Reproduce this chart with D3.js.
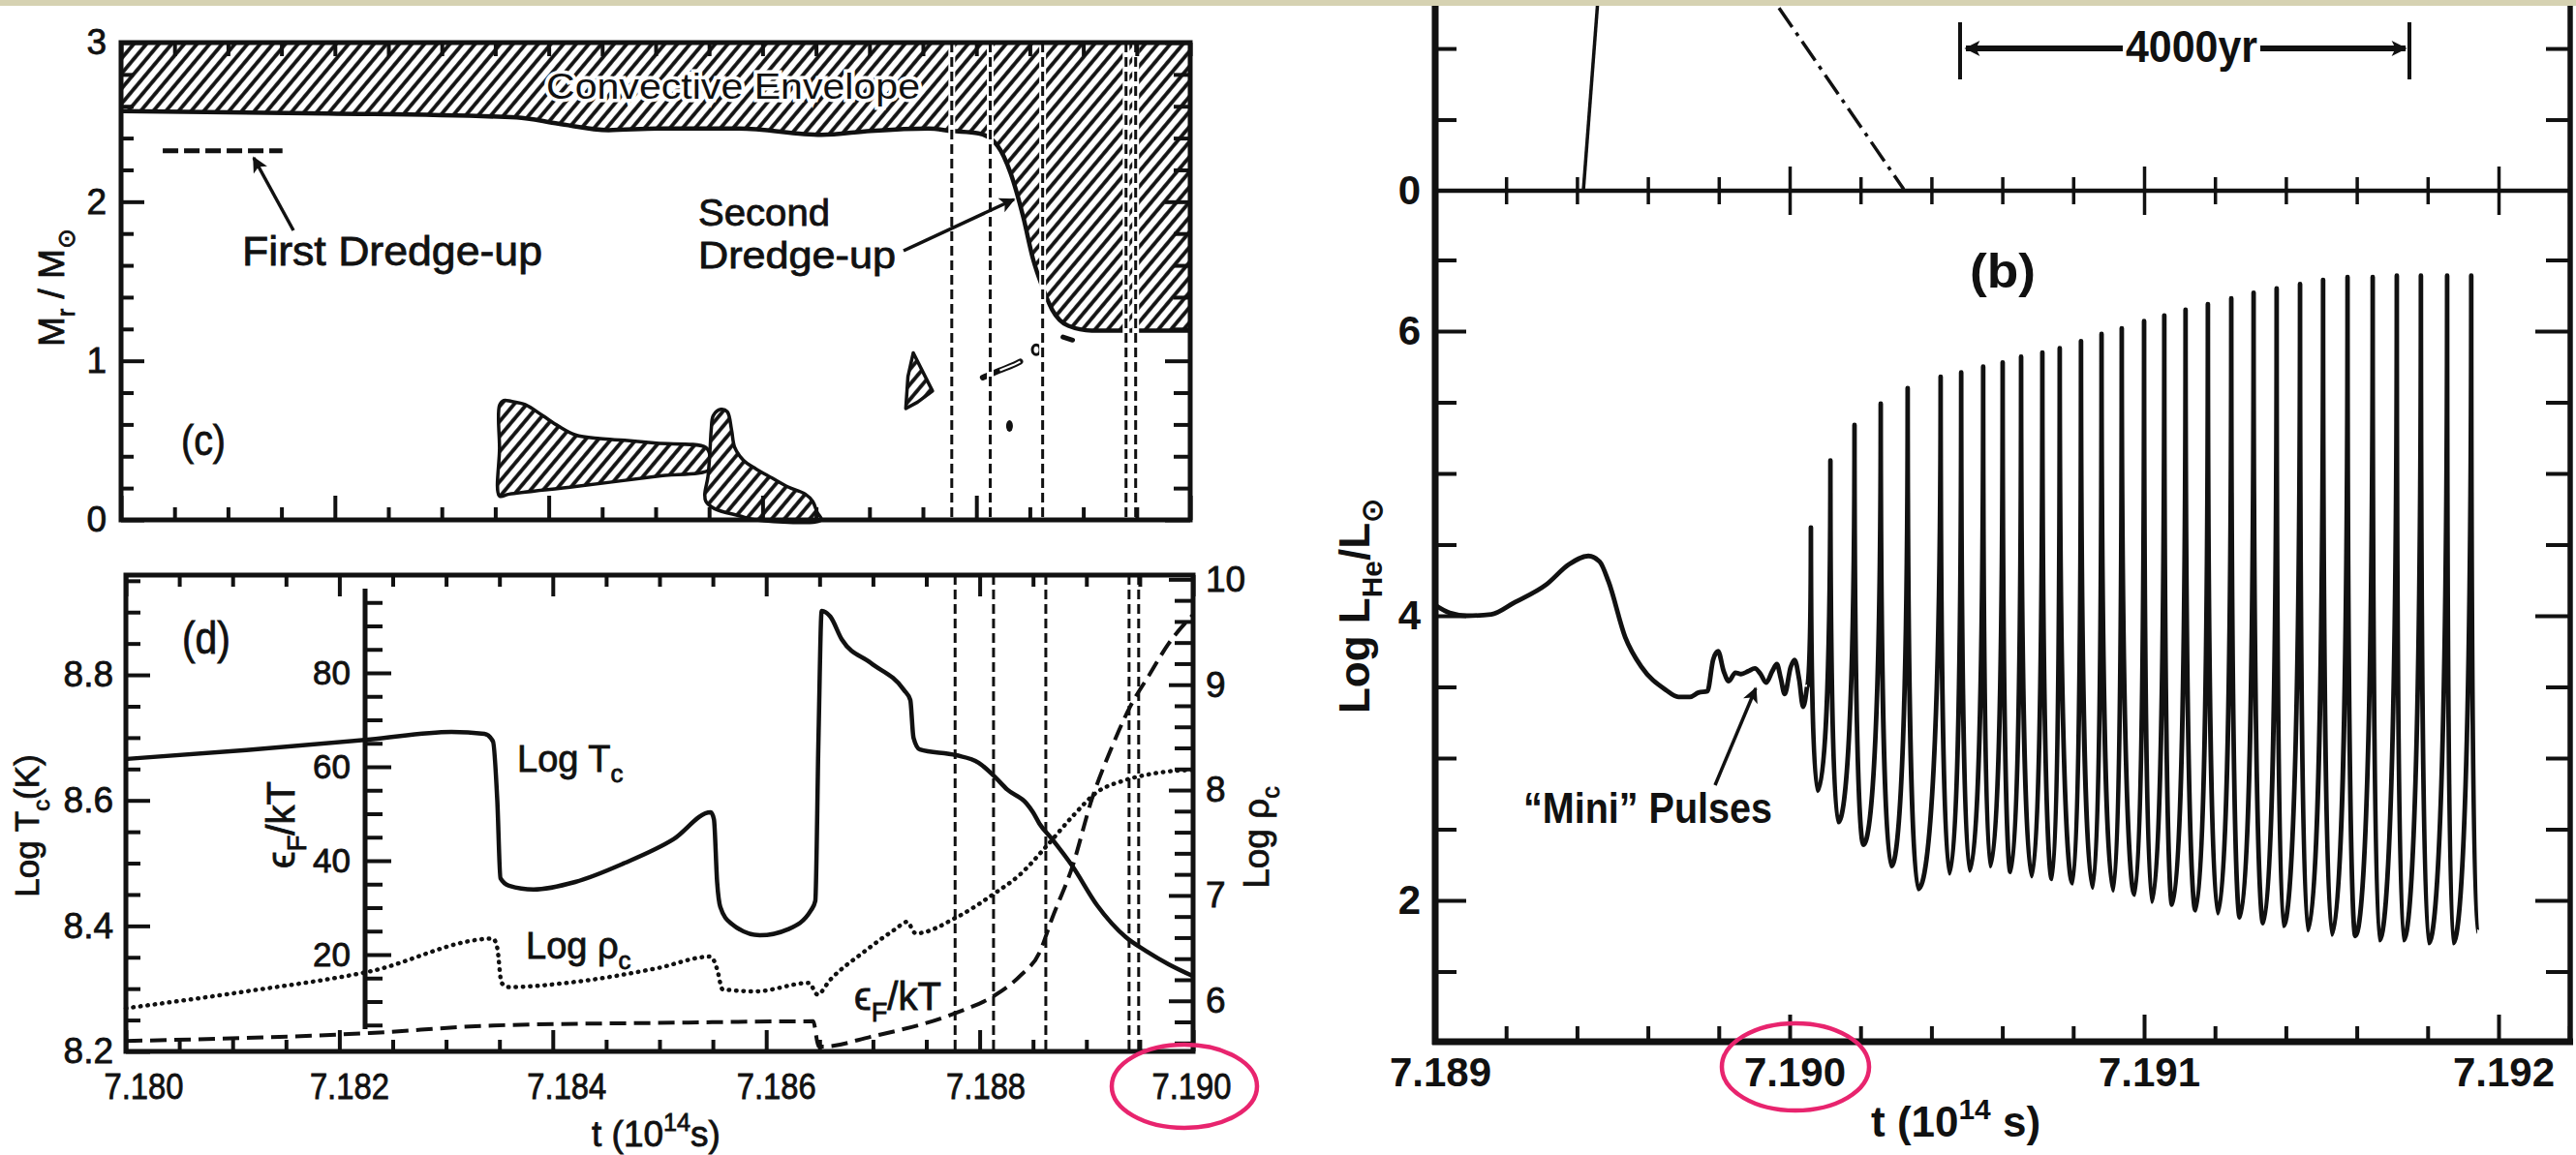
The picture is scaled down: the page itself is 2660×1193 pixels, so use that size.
<!DOCTYPE html>
<html><head><meta charset="utf-8">
<script src="https://cdn.jsdelivr.net/npm/d3@7"></script>
<style>html,body{margin:0;padding:0;background:#fff;}svg{display:block;}</style>
</head><body>
<svg id="fig" width="2660" height="1193" xmlns="http://www.w3.org/2000/svg"></svg>
<script>
// ================= DATA =================
// ---- Panel (c): Mr/Msun vs t ----
const envT = [7.1800,7.18194,7.18370,7.18409,7.18456,7.18502,7.18578,7.18655,7.18701,7.18755,7.18777,7.18802,7.18820,7.18832,7.18844,7.18853,7.18862,7.18871,7.18886,7.18908,7.1900];
const envM = [2.57,2.555,2.53,2.49,2.45,2.46,2.46,2.42,2.445,2.46,2.445,2.43,2.35,2.18,1.90,1.64,1.46,1.32,1.22,1.19,1.19];
const blob1T = [7.18354,7.18354,7.18354,7.18358,7.18365,7.18378,7.18394,7.18409,7.18425,7.18448,7.18471,7.18501,7.18547,7.18551,7.18551,7.18501,7.18425,7.18363];
const blob1M = [0.15,0.45,0.72,0.75,0.745,0.725,0.657,0.59,0.534,0.511,0.50,0.482,0.455,0.40,0.32,0.274,0.21,0.162];
const blob2T = [7.18561,7.18567,7.18571,7.18574,7.18582,7.18594,7.18609,7.18624,7.18640,7.18647,7.18651,7.18655,7.18594,7.18578,7.18555,7.18547,7.18546,7.18549,7.18551,7.18552,7.18554];
const blob2M = [0.695,0.68,0.567,0.455,0.376,0.320,0.263,0.207,0.162,0.116,0.049,0.0,0.0,0.026,0.071,0.116,0.162,0.274,0.455,0.567,0.657];
const triT = [7.18741,7.18759,7.18745,7.18734,7.18736];
const triM = [1.05,0.81,0.74,0.70,0.90];
const chainT = [7.18806,7.18822,7.18835,7.18841];
const chainM = [0.895,0.94,0.975,0.995];
const ringT = [7.18856], ringM = [1.07];
const dashBitT = [7.18881,7.18890], dashBitM = [1.15,1.13];
const dotT = [7.18831], dotM = [0.59];
const dredge1T = [7.18039,7.18151], dredge1M = [2.32,2.32];
const modelT = [7.18777,7.18813,7.18862,7.18940,7.18949];   // vertical dashed lines (c),(d)

// ---- Panel (d) ----
const tcT = [7.18000,7.18113,7.18229,7.18305,7.18336,7.18344,7.18348,7.18351,7.18359,7.18382,7.18421,7.18467,7.18513,7.18548,7.18551,7.18554,7.18557,7.18567,7.18594,7.18621,7.18642,7.18646,7.18649,7.18652,7.18660,7.18671,7.18698,7.18729,7.18735,7.18738,7.18744,7.18778,7.18799,7.18814,7.18826,7.18844,7.18850,7.18856,7.18868,7.18887,7.18910,7.18937,7.18956,7.18977,7.19000];
const tcV = [8.666,8.680,8.697,8.709,8.706,8.694,8.60,8.476,8.464,8.458,8.470,8.500,8.538,8.581,8.57,8.47,8.43,8.404,8.385,8.395,8.425,8.44,8.70,8.902,8.893,8.856,8.819,8.776,8.760,8.70,8.681,8.672,8.660,8.638,8.617,8.595,8.581,8.563,8.538,8.495,8.433,8.382,8.360,8.339,8.320];
const rhoT = [7.18000,7.18113,7.18229,7.18344,7.18348,7.18352,7.18359,7.18421,7.18498,7.18548,7.18554,7.18559,7.18590,7.18640,7.18648,7.18660,7.18691,7.18721,7.18732,7.18740,7.18778,7.18814,7.18838,7.18862,7.18887,7.18910,7.18935,7.18959,7.18980,7.19000];
const rhoV = [5.93,6.09,6.28,6.59,6.50,6.17,6.13,6.18,6.31,6.42,6.30,6.11,6.09,6.17,6.06,6.20,6.46,6.68,6.75,6.64,6.79,7.02,7.20,7.46,7.75,7.98,8.09,8.15,8.18,8.19];
const efT = [7.18000,7.18229,7.18344,7.18517,7.18644,7.18649,7.18653,7.18698,7.18778,7.18814,7.18838,7.18856,7.18868,7.18887,7.18905,7.18923,7.18941,7.18959,7.18977,7.19000];
const efV = [1.6,3.3,4.9,5.5,5.8,0.5,0.4,2.5,7.6,11.3,15.5,20.4,27.8,38.8,53,63.7,72.8,79.6,86.2,92.4];

// ---- Panel (b): Log L_He ----
const preT = [7.189003,7.189041,7.189090,7.189158,7.189221,7.189314,7.189377,7.189432,7.189464,7.189489,7.189536,7.189582,7.189650,7.189686,7.189719,7.189743,7.189768,7.189784,7.189798,7.189814,7.189828,7.189847,7.189863,7.189883,7.189902,7.189918,7.189934,7.189951,7.189964,7.189975,7.189986,7.190003,7.190014,7.190027,7.190038,7.190049];
const preL = [4.07,4.02,4.00,4.01,4.09,4.22,4.36,4.42,4.38,4.24,3.85,3.64,3.48,3.43,3.43,3.46,3.47,3.69,3.75,3.61,3.54,3.60,3.59,3.61,3.63,3.59,3.53,3.61,3.66,3.56,3.45,3.64,3.69,3.55,3.36,3.50];
const peakT = [7.190060,7.190115,7.190183,7.190257,7.190333,7.190426,7.190484,7.190546,7.190601,7.190653,7.190713,7.190762,7.190822,7.190880,7.190937,7.191000,7.191057,7.191117,7.191180,7.191246,7.191309,7.191374,7.191440,7.191505,7.191574,7.191645,7.191713,7.191781,7.191855,7.191923];
const peakL = [4.62,5.09,5.34,5.49,5.60,5.68,5.71,5.75,5.78,5.82,5.85,5.88,5.93,5.98,6.02,6.07,6.11,6.15,6.19,6.23,6.27,6.30,6.33,6.36,6.38,6.38,6.39,6.39,6.39,6.39];
const troughT = [7.190079,7.190137,7.190208,7.190287,7.190363,7.190451,7.190508,7.190566,7.190623,7.190683,7.190740,7.190798,7.190855,7.190913,7.190973,7.191022,7.191079,7.191145,7.191208,7.191270,7.191336,7.191393,7.191462,7.191530,7.191596,7.191664,7.191732,7.191803,7.191872,7.191940];
const troughL = [2.77,2.55,2.39,2.24,2.08,2.19,2.21,2.24,2.20,2.17,2.15,2.12,2.09,2.07,2.04,1.99,1.97,1.93,1.91,1.88,1.84,1.82,1.79,1.76,1.75,1.72,1.72,1.70,1.70,1.78];
const upSolidT = [7.189418,7.189458], upSolidV = [0,2.62];
const upDashT = [7.189970,7.190322], upDashV = [2.57,0.02];

// tick labels
const cYLabels = [0,1,2,3];
const dTLabels = [8.2,8.4,8.6,8.8];
const dELabels = [20,40,60,80];
const dRLabels = [6,7,8,9,10];
const dXLabels = [7.180,7.182,7.184,7.186,7.188,7.190];
const bXLabels = [7.189,7.190,7.191,7.192];
const bYLabels = [2,4,6];
const upYLabels = [0];

// ================= DRAWING =================
const FONT = "'Liberation Sans', Arial, Helvetica, sans-serif";
const INK = "#111";
const svg = d3.select('#fig');
svg.append('rect').attr('width',2660).attr('height',1193).attr('fill','#fff');

const defs = svg.append('defs');
const pat = defs.append('pattern').attr('id','hatch').attr('patternUnits','userSpaceOnUse')
  .attr('width',10).attr('height',10).attr('patternTransform','rotate(40)');
pat.append('rect').attr('width',10).attr('height',10).attr('fill','#fff');
pat.append('line').attr('x1',5).attr('y1',-1).attr('x2',5).attr('y2',11).attr('stroke',INK).attr('stroke-width',3.8);
function marker(id, w, h){
  defs.append('marker').attr('id',id).attr('viewBox','0 0 10 10').attr('refX',9).attr('refY',5)
    .attr('markerUnits','userSpaceOnUse').attr('markerWidth',w).attr('markerHeight',h).attr('orient','auto')
    .append('path').attr('d','M0,0 L10,5 L0,10 L2.5,5 Z').attr('fill',INK);
}
marker('arrC', 26, 16);
marker('arrB', 30, 16);

function rich(parent, parts, attrs, fs){
  const t = parent.append('text');
  Object.entries(attrs).forEach(([k,v])=>t.attr(k,v));
  t.attr('font-size',fs);
  let cur = 0;
  parts.forEach(p=>{
    const target = p.sub ? 0.30*fs : (p.sup ? -0.42*fs : 0);
    const ts = t.append('tspan').text(p.t);
    if (target - cur !== 0) ts.attr('dy', target - cur);
    if (p.sub || p.sup) ts.attr('font-size', fs*0.68);
    cur = target;
  });
  return t;
}
function styleAxis(g, fs, bold){
  g.select('.domain').remove();
  g.attr('font-family',null).attr('font-size',null);
  g.selectAll('.tick line').attr('stroke',INK).attr('stroke-width',4);
  g.selectAll('.tick text').attr('fill',INK).attr('font-size',fs).attr('font-family',FONT)
    .attr('font-weight', bold ? 'bold' : 'normal');
  if (!bold) g.selectAll('.tick text').attr('stroke',INK).attr('stroke-width',0.8);
  return g;
}
const heavy = sel => sel.attr('stroke',INK).attr('stroke-width',0.8);

// ---------- Panel (c) ----------
const xC = d3.scaleLinear([7.180,7.190],[125,1229]);
const yC = d3.scaleLinear([0,3],[537,44]);
const gc = svg.append('g');
const envData = envT.map((t,i)=>({t, m:envM[i]}));
gc.append('path').datum(envData)
  .attr('d', d3.area().x(d=>xC(d.t)).y0(yC(3)).y1(d=>yC(d.m)).curve(d3.curveMonotoneX))
  .attr('fill','url(#hatch)');
gc.append('path').datum(envData)
  .attr('d', d3.line().x(d=>xC(d.t)).y(d=>yC(d.m)).curve(d3.curveMonotoneX))
  .attr('fill','none').attr('stroke',INK).attr('stroke-width',4.5);
function blob(T,M){
  gc.append('path').datum(T.map((t,i)=>[xC(t),yC(M[i])]))
    .attr('d', d3.line().curve(d3.curveCatmullRomClosed.alpha(0.5)))
    .attr('fill','url(#hatch)').attr('stroke',INK).attr('stroke-width',3.5).attr('stroke-linejoin','round');
}
blob(blob1T, blob1M);
blob(blob2T, blob2M);
gc.append('path').datum(triT.map((t,i)=>[xC(t),yC(triM[i])]))
  .attr('d', d3.line().curve(d3.curveLinearClosed))
  .attr('fill','url(#hatch)').attr('stroke',INK).attr('stroke-width',3.5).attr('stroke-linejoin','round');
gc.append('path').datum(chainT.map((t,i)=>[xC(t),yC(chainM[i])]))
  .attr('d', d3.line().curve(d3.curveMonotoneX)).attr('fill','none').attr('stroke',INK)
  .attr('stroke-width',6).attr('stroke-linecap','round');
gc.append('path').datum(chainT.slice(1).map((t,i)=>[xC(t),yC(chainM[i+1])]))
  .attr('d', d3.line()).attr('fill','none').attr('stroke','#fff').attr('stroke-width',2);
gc.selectAll('.ring').data(ringT).join('ellipse').attr('cx',d=>xC(d)).attr('cy',(d,i)=>yC(ringM[i]))
  .attr('rx',4).attr('ry',5).attr('fill','none').attr('stroke',INK).attr('stroke-width',3);
gc.append('path').datum(dashBitT.map((t,i)=>[xC(t),yC(dashBitM[i])]))
  .attr('d', d3.line()).attr('stroke',INK).attr('stroke-width',5).attr('stroke-linecap','round');
gc.selectAll('.dot').data(dotT).join('ellipse').attr('cx',d=>xC(d)).attr('cy',(d,i)=>yC(dotM[i]))
  .attr('rx',3.5).attr('ry',6).attr('fill',INK);
gc.append('path').datum(dredge1T.map((t,i)=>[xC(t),yC(dredge1M[i])]))
  .attr('d', d3.line()).attr('stroke',INK).attr('stroke-width',5).attr('stroke-dasharray','16,6');
modelT.forEach(t=>{
  gc.append('line').attr('x1',xC(t)).attr('x2',xC(t)).attr('y1',yC(3)).attr('y2',yC(0))
    .attr('stroke','#fff').attr('stroke-width',7);
});
modelT.forEach(t=>{
  gc.append('line').attr('x1',xC(t)).attr('x2',xC(t)).attr('y1',yC(3)).attr('y2',yC(0))
    .attr('stroke',INK).attr('stroke-width',3).attr('stroke-dasharray','10,5');
});
const cYMinor = yC.ticks(15).filter(v=>!cYLabels.includes(v));
styleAxis(gc.append('g').attr('transform','translate(125,0)')
  .call(d3.axisLeft(yC).tickValues(cYLabels).tickSize(-24).tickPadding(15).tickFormat(d3.format('d'))), 37);
styleAxis(gc.append('g').attr('transform','translate(125,0)')
  .call(d3.axisLeft(yC).tickValues(cYMinor).tickSize(-13).tickFormat('')), 36);
styleAxis(gc.append('g').attr('transform','translate(1229,0)')
  .call(d3.axisRight(yC).tickValues(cYLabels).tickSize(-26).tickFormat('')), 36);
styleAxis(gc.append('g').attr('transform','translate(1229,0)')
  .call(d3.axisRight(yC).tickValues(cYMinor).tickSize(-17).tickFormat('')), 36);
const cXMajor = xC.ticks(5), cXMinor = xC.ticks(20).filter(v=>!cXMajor.some(m=>Math.abs(m-v)<1e-9));
styleAxis(gc.append('g').attr('transform','translate(0,537)')
  .call(d3.axisBottom(xC).tickValues(cXMajor).tickSize(-25).tickFormat('')), 36);
styleAxis(gc.append('g').attr('transform','translate(0,537)')
  .call(d3.axisBottom(xC).tickValues(cXMinor).tickSize(-13).tickFormat('')), 36);
styleAxis(gc.append('g').attr('transform','translate(0,44)')
  .call(d3.axisTop(xC).tickValues(cXMajor.concat(cXMinor)).tickSize(-14).tickFormat('')), 36);
gc.append('rect').attr('x',125).attr('y',44).attr('width',1104).attr('height',493)
  .attr('fill','none').attr('stroke',INK).attr('stroke-width',5);
gc.append('text').text('Convective Envelope').attr('x',564).attr('y',102).attr('font-family',FONT)
  .attr('font-size',37).attr('textLength',386).attr('lengthAdjust','spacingAndGlyphs')
  .attr('fill',INK).attr('stroke','#fff').attr('stroke-width',7).attr('paint-order','stroke');
heavy(gc.append('text').text('First Dredge-up').attr('x',250).attr('y',274).attr('font-family',FONT)
  .attr('font-size',43).attr('textLength',310).attr('lengthAdjust','spacingAndGlyphs').attr('fill',INK));
heavy(gc.append('text').text('Second').attr('x',721).attr('y',233).attr('font-family',FONT)
  .attr('font-size',38.5).attr('textLength',136).attr('lengthAdjust','spacingAndGlyphs').attr('fill',INK));
heavy(gc.append('text').text('Dredge-up').attr('x',721).attr('y',277).attr('font-family',FONT)
  .attr('font-size',38.5).attr('textLength',204).attr('lengthAdjust','spacingAndGlyphs').attr('fill',INK));
heavy(gc.append('text').text('(c)').attr('x',187).attr('y',470).attr('font-family',FONT)
  .attr('font-size',44).attr('textLength',46).attr('lengthAdjust','spacingAndGlyphs').attr('fill',INK));
gc.append('line').attr('x1',303).attr('y1',238).attr('x2',262).attr('y2',163)
  .attr('stroke',INK).attr('stroke-width',3.5).attr('marker-end','url(#arrC)');
gc.append('line').attr('x1',933).attr('y1',259).attr('x2',1047).attr('y2',206)
  .attr('stroke',INK).attr('stroke-width',3.5).attr('marker-end','url(#arrC)');
heavy(rich(gc, [{t:'M'},{t:'r',sub:true},{t:' / M'},{t:'⊙',sub:true}],
  {transform:'translate(66,297) rotate(-90)','text-anchor':'middle','font-family':FONT,fill:INK}, 37));

// ---------- Panel (d) ----------
const xD = d3.scaleLinear([7.180,7.190],[130,1232]);
const yT = d3.scaleLinear([8.2,8.959],[1086,594]);
const yE = d3.scaleLinear([0,100],[1083,598]);
const yR = d3.scaleLinear([5.52,10.04],[1086,594]);
const gd = svg.append('g');
modelT.forEach(t=>{
  gd.append('line').attr('x1',xD(t)).attr('x2',xD(t)).attr('y1',594).attr('y2',1086)
    .attr('stroke',INK).attr('stroke-width',3).attr('stroke-dasharray','10,5');
});
gd.append('path').datum(tcT.map((t,i)=>[xD(t),yT(tcV[i])]))
  .attr('d', d3.line().curve(d3.curveMonotoneX)).attr('fill','none').attr('stroke',INK).attr('stroke-width',4.5);
gd.append('path').datum(rhoT.map((t,i)=>[xD(t),yR(rhoV[i])]))
  .attr('d', d3.line().curve(d3.curveMonotoneX)).attr('fill','none').attr('stroke',INK).attr('stroke-width',4.5)
  .attr('stroke-dasharray','0.5,7').attr('stroke-linecap','round');
gd.append('path').datum(efT.map((t,i)=>[xD(t),yE(efV[i])]))
  .attr('d', d3.line().curve(d3.curveMonotoneX)).attr('fill','none').attr('stroke',INK).attr('stroke-width',4)
  .attr('stroke-dasharray','17,8');
const dTMinor = yT.ticks(15).filter(v=>!dTLabels.some(m=>Math.abs(m-v)<1e-9));
styleAxis(gd.append('g').attr('transform','translate(130,0)')
  .call(d3.axisLeft(yT).tickValues(dTLabels).tickSize(-25).tickPadding(13).tickFormat(d3.format('.1f'))), 37);
styleAxis(gd.append('g').attr('transform','translate(130,0)')
  .call(d3.axisLeft(yT).tickValues(dTMinor).tickSize(-15).tickFormat('')), 36);
const dEMinor = yE.ticks(20).filter(v=>v>=5 && v<=95 && !dELabels.includes(v));
styleAxis(gd.append('g').attr('transform','translate(377,0)')
  .call(d3.axisLeft(yE).tickValues(dELabels).tickSize(-27).tickPadding(15).tickFormat(d3.format('d'))), 35);
styleAxis(gd.append('g').attr('transform','translate(377,0)')
  .call(d3.axisLeft(yE).tickValues(dEMinor).tickSize(-18).tickFormat('')), 34);
gd.append('line').attr('x1',377).attr('x2',377).attr('y1',608).attr('y2',1063).attr('stroke',INK).attr('stroke-width',5);
const dRMinor = d3.range(28,51).map(i=>i/5).filter(v=>!dRLabels.some(m=>Math.abs(m-v)<1e-9));
styleAxis(gd.append('g').attr('transform','translate(1232,0)')
  .call(d3.axisRight(yR).tickValues(dRLabels).tickSize(-25).tickPadding(13).tickFormat(d3.format('d'))), 37);
styleAxis(gd.append('g').attr('transform','translate(1232,0)')
  .call(d3.axisRight(yR).tickValues(dRMinor).tickSize(-19).tickFormat('')), 36);
const dXMinor = xD.ticks(20).filter(v=>!dXLabels.some(m=>Math.abs(m-v)<1e-9));
const dxShift = [18,10,14,10,6,-2];
const dxAx = styleAxis(gd.append('g').attr('transform','translate(0,1086)')
  .call(d3.axisBottom(xD).tickValues(dXLabels).tickSize(-22).tickPadding(23).tickFormat(d3.format('.3f'))), 37);
dxAx.selectAll('.tick text').attr('textLength',82).attr('lengthAdjust','spacingAndGlyphs').attr('dx',(d,i)=>dxShift[i]);
styleAxis(gd.append('g').attr('transform','translate(0,1086)')
  .call(d3.axisBottom(xD).tickValues(dXMinor).tickSize(-12).tickFormat('')), 36);
styleAxis(gd.append('g').attr('transform','translate(0,594)')
  .call(d3.axisTop(xD).tickValues(dXLabels).tickSize(-22).tickFormat('')), 36);
styleAxis(gd.append('g').attr('transform','translate(0,594)')
  .call(d3.axisTop(xD).tickValues(dXMinor).tickSize(-12).tickFormat('')), 36);
gd.append('rect').attr('x',130).attr('y',594).attr('width',1102).attr('height',492)
  .attr('fill','none').attr('stroke',INK).attr('stroke-width',5);
heavy(gd.append('text').text('(d)').attr('x',188).attr('y',675).attr('font-family',FONT)
  .attr('font-size',46).attr('textLength',50).attr('lengthAdjust','spacingAndGlyphs').attr('fill',INK));
heavy(rich(gd, [{t:'Log T'},{t:'c',sub:true}], {x:534,y:797,'font-family':FONT,fill:INK}, 38));
heavy(rich(gd, [{t:'Log ρ'},{t:'c',sub:true}], {x:543,y:990,'font-family':FONT,fill:INK}, 38));
heavy(rich(gd, [{t:'ϵ'},{t:'F',sub:true},{t:'/kT'}], {x:882,y:1043,'font-family':FONT,fill:INK}, 40));
heavy(rich(gd, [{t:'Log T'},{t:'c',sub:true},{t:'(K)'}],
  {transform:'translate(40,853) rotate(-90)','text-anchor':'middle','font-family':FONT,fill:INK}, 35));
heavy(rich(gd, [{t:'ϵ'},{t:'F',sub:true},{t:'/kT'}],
  {transform:'translate(304,852) rotate(-90)','text-anchor':'middle','font-family':FONT,fill:INK}, 40));
heavy(rich(gd, [{t:'Log ρ'},{t:'c',sub:true}],
  {transform:'translate(1310,865) rotate(-90)','text-anchor':'middle','font-family':FONT,fill:INK}, 37));
heavy(rich(gd, [{t:'t  (10'},{t:'14',sup:true},{t:'s)'}], {x:611,y:1184,'font-family':FONT,fill:INK}, 37));

// ---------- Panel (b) ----------
const xR = d3.scaleLinear([7.189,7.192],[1482,2580]);
const yB = d3.scaleLinear([1,7],[1077,195]);
const yU = d3.scaleLinear([0,2.6],[197,6]);
const gb = svg.append('g');
gb.append('path').datum(upSolidT.map((t,i)=>[xR(t),yU(upSolidV[i])]))
  .attr('d', d3.line()).attr('stroke',INK).attr('stroke-width',3.5).attr('fill','none');
gb.append('path').datum(upDashT.map((t,i)=>[xR(t),yU(upDashV[i])]))
  .attr('d', d3.line()).attr('stroke',INK).attr('stroke-width',3.5).attr('fill','none')
  .attr('stroke-dasharray','24,7,4,7');
gb.append('path').datum(preT.map((t,i)=>[xR(t),yB(preL[i])]))
  .attr('d', d3.line().curve(d3.curveMonotoneX)).attr('fill','none').attr('stroke',INK)
  .attr('stroke-width',4.8).attr('stroke-linejoin','round');
const lp = d3.path();
let px0 = xR(preT[preT.length-1]), py0 = yB(preL[preL.length-1]);
lp.moveTo(px0, py0);
peakT.forEach((t,i)=>{
  const xp = xR(t), yp = yB(peakL[i]);
  lp.bezierCurveTo(px0 + 0.5*(xp-px0), py0, xp, py0 + 0.3*(yp-py0), xp, yp);
  const xt = xR(troughT[i]), yt = yB(troughL[i]);
  lp.bezierCurveTo(xp, yp + 0.7*(yt-yp), xp + 0.55*(xt-xp), yt, xt, yt);
  px0 = xt; py0 = yt;
});
gb.append('path').attr('d', lp.toString()).attr('fill','none').attr('stroke',INK)
  .attr('stroke-width',4.8).attr('stroke-linejoin','round');
const bYMinor = d3.range(3,14).map(i=>i/2).filter(v=>!bYLabels.includes(v));
styleAxis(gb.append('g').attr('transform','translate(1482,0)')
  .call(d3.axisLeft(yB).tickValues(bYLabels).tickSize(-32).tickPadding(15).tickFormat(d3.format('d'))), 42, true);
styleAxis(gb.append('g').attr('transform','translate(1482,0)')
  .call(d3.axisLeft(yB).tickValues(bYMinor).tickSize(-22).tickFormat('')), 42, true);
styleAxis(gb.append('g').attr('transform','translate(1482,0)')
  .call(d3.axisLeft(yU).tickValues(upYLabels).tickSize(0).tickPadding(15).tickFormat(d3.format('d'))), 42, true);
styleAxis(gb.append('g').attr('transform','translate(1482,0)')
  .call(d3.axisLeft(yU).tickValues([1,2]).tickSize(-22).tickFormat('')), 42, true);
styleAxis(gb.append('g').attr('transform','translate(2654,0)')
  .call(d3.axisRight(yB).tickValues(bYLabels).tickSize(-36).tickFormat('')), 42, true);
styleAxis(gb.append('g').attr('transform','translate(2654,0)')
  .call(d3.axisRight(yB).tickValues(bYMinor).tickSize(-25).tickFormat('')), 42, true);
styleAxis(gb.append('g').attr('transform','translate(2654,0)')
  .call(d3.axisRight(yU).tickValues([1,2]).tickSize(-25).tickFormat('')), 42, true);
const bXMinor = d3.range(1,17).map(i=>7.189+i*0.0002).filter(v=>!bXLabels.some(m=>Math.abs(m-v)<1e-7));
const bxAx = styleAxis(gb.append('g').attr('transform','translate(0,1076)')
  .call(d3.axisBottom(xR).tickValues(bXLabels).tickSize(-28).tickPadding(16).tickFormat(d3.format('.3f'))), 42, true);
bxAx.selectAll('.tick text').attr('dx',5);
styleAxis(gb.append('g').attr('transform','translate(0,1076)')
  .call(d3.axisBottom(xR).tickValues(bXMinor).tickSize(-16).tickFormat('')), 42, true);
const mid = gb.append('g').attr('transform','translate(0,197)');
styleAxis(mid.append('g').call(d3.axisBottom(xR).tickValues(bXMinor).tickSize(14).tickFormat('')), 42, true);
styleAxis(mid.append('g').call(d3.axisTop(xR).tickValues(bXMinor).tickSize(14).tickFormat('')), 42, true);
styleAxis(mid.append('g').call(d3.axisBottom(xR).tickValues(bXLabels.slice(1)).tickSize(25).tickFormat('')), 42, true);
styleAxis(mid.append('g').call(d3.axisTop(xR).tickValues(bXLabels.slice(1)).tickSize(25).tickFormat('')), 42, true);
mid.selectAll('.tick line').attr('stroke-width',3.5);
gb.append('line').attr('x1',1482).attr('x2',2652).attr('y1',197).attr('y2',197).attr('stroke',INK).attr('stroke-width',4.5);
gb.append('line').attr('x1',1482).attr('x2',1482).attr('y1',0).attr('y2',1079).attr('stroke',INK).attr('stroke-width',7);
gb.append('line').attr('x1',1479).attr('x2',2657).attr('y1',1076).attr('y2',1076).attr('stroke',INK).attr('stroke-width',7);
gb.append('line').attr('x1',2654).attr('x2',2654).attr('y1',0).attr('y2',1079).attr('stroke',INK).attr('stroke-width',5.5);
gb.append('line').attr('x1',2024).attr('x2',2024).attr('y1',23).attr('y2',82).attr('stroke',INK).attr('stroke-width',4);
gb.append('line').attr('x1',2488).attr('x2',2488).attr('y1',23).attr('y2',82).attr('stroke',INK).attr('stroke-width',4);
gb.append('line').attr('x1',2192).attr('x2',2030).attr('y1',50).attr('y2',50).attr('stroke',INK).attr('stroke-width',6)
  .attr('marker-end','url(#arrB)');
gb.append('line').attr('x1',2334).attr('x2',2484).attr('y1',50).attr('y2',50).attr('stroke',INK).attr('stroke-width',6)
  .attr('marker-end','url(#arrB)');
gb.append('text').text('4000yr').attr('x',2195).attr('y',64).attr('font-family',FONT).attr('font-weight','bold')
  .attr('font-size',46).attr('textLength',136).attr('lengthAdjust','spacingAndGlyphs').attr('fill',INK);
gb.append('text').text('(b)').attr('x',2034).attr('y',297).attr('font-family',FONT).attr('font-weight','bold')
  .attr('font-size',50).attr('textLength',68).attr('lengthAdjust','spacingAndGlyphs').attr('fill',INK);
gb.append('text').text('\u201CMini\u201D Pulses').attr('x',1573).attr('y',850).attr('font-family',FONT).attr('font-weight','bold')
  .attr('font-size',44).attr('textLength',257).attr('lengthAdjust','spacingAndGlyphs').attr('fill',INK);
gb.append('line').attr('x1',1771).attr('y1',811).attr('x2',1813).attr('y2',711)
  .attr('stroke',INK).attr('stroke-width',3.5).attr('marker-end','url(#arrC)');
rich(gb, [{t:'Log L'},{t:'He',sub:true},{t:'/L'},{t:'⊙',sub:true}],
  {transform:'translate(1414,626) rotate(-90)','text-anchor':'middle','font-family':FONT,'font-weight':'bold',fill:INK}, 44);
rich(gb, [{t:'t  (10'},{t:'14',sup:true},{t:' s)'}], {x:1932,y:1174,'font-family':FONT,'font-weight':'bold',fill:INK}, 44);

svg.append('ellipse').attr('cx',1223).attr('cy',1122).attr('rx',75).attr('ry',43)
  .attr('fill','none').attr('stroke','#e8246e').attr('stroke-width',4.5);
svg.append('ellipse').attr('cx',1854).attr('cy',1102).attr('rx',76).attr('ry',45)
  .attr('fill','none').attr('stroke','#e8246e').attr('stroke-width',4.5);

svg.append('rect').attr('x',0).attr('y',0).attr('width',2660).attr('height',6).attr('fill','#d6d2b2');
</script>
</body></html>
